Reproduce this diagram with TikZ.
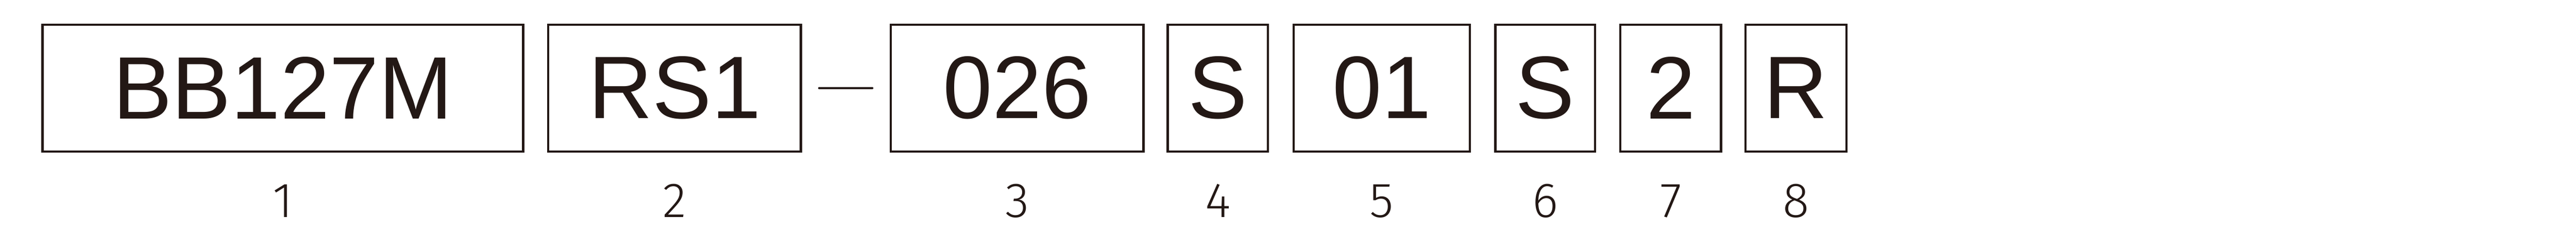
\documentclass[tikz,border=0pt]{standalone}
\usepackage{fontspec}
\setmainfont{Liberation Sans}
\newfontfamily\labelfont{Fira Sans Light}
\usetikzlibrary{positioning}
\definecolor{inkblack}{HTML}{231815}

\tikzset{
  codebox/.style={draw=inkblack, line width=0.67pt, minimum height=38.2pt,
    inner sep=0pt, outer sep=0pt, text=inkblack,
    font=\fontsize{26.7}{30}\selectfont},
  numlabel/.style={anchor=base, inner sep=0pt, text=inkblack,
    font=\labelfont\fontsize{14.8}{16}\selectfont}
}

\begin{document}
\begin{tikzpicture}
          \useasboundingbox (0,0) rectangle (776.1pt,-74.9pt);

          % code boxes
          \node[codebox, minimum width=144.8pt] (b1) at (85.2pt,-26.5pt) {BB127M};
          \node[codebox, minimum width=76.1pt, right=7.6pt of b1] (b2) {RS1};
          \node[codebox, minimum width=76.1pt, right=27.1pt of b2] (b3) {026};
          \node[codebox, minimum width=30.2pt, right=7.3pt of b3] (b4) {S};
          \node[codebox, minimum width=53.0pt, right=7.8pt of b4] (b5) {01};
          \node[codebox, minimum width=30.1pt, right=7.7pt of b5] (b6) {S};
          \node[codebox, minimum width=30.3pt, right=7.6pt of b6] (b7) {2};
          \node[codebox, minimum width=30.4pt, right=7.4pt of b7] (b8) {R};

          % dash
          \coordinate[right=5.5pt of b2] (dashL);
          \coordinate[left=5.6pt of b3] (dashR);
          \draw[inkblack, line width=0.67pt, line cap=round] (dashL) -- (dashR);

          % numbers
          \node[numlabel] (n1) at (b1.center |- 0,-65.5pt) {1};
          \node[numlabel] (n2) at (b2.center |- 0,-65.5pt) {2};
          \node[numlabel] (n3) at (b3.center |- 0,-65.5pt) {3};
          \node[numlabel] (n4) at (b4.center |- 0,-65.5pt) {4};
          \node[numlabel] (n5) at (b5.center |- 0,-65.5pt) {5};
          \node[numlabel] (n6) at (b6.center |- 0,-65.5pt) {6};
          \node[numlabel] (n7) at (b7.center |- 0,-65.5pt) {7};
          \node[numlabel] (n8) at (b8.center |- 0,-65.5pt) {8};

        \end{tikzpicture}
\end{document}
